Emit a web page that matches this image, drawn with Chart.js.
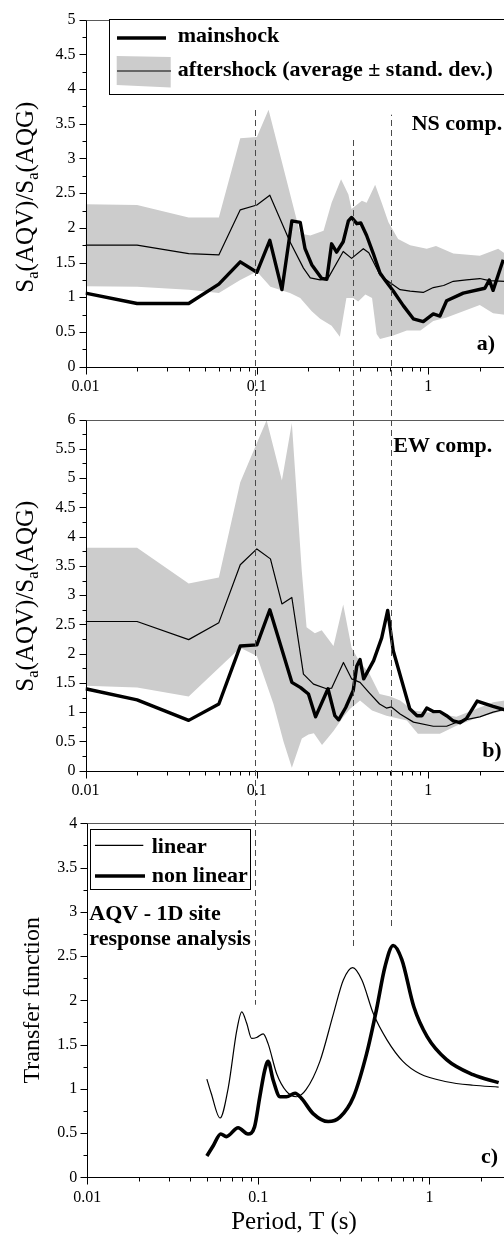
<!DOCTYPE html>
<html><head><meta charset="utf-8">
<script src="https://cdn.jsdelivr.net/npm/chart.js@4.4.1/dist/chart.umd.min.js"></script>
<style>
html,body{margin:0;padding:0;background:#fff;overflow:hidden;width:504px;height:1236px}
#wrap{position:relative;width:504px;height:1236px;overflow:hidden;background:#fff}
canvas{position:absolute;left:0}
</style></head><body>
<div id="wrap">
<canvas id="ca" width="510" height="400" style="top:0px"></canvas>
<canvas id="cb" width="510" height="400" style="top:400px"></canvas>
<canvas id="cc" width="511" height="436" style="top:800px"></canvas>
</div>
<script>
const FONT = '"Liberation Serif","Times New Roman",serif';

// ---- axis ticks ----
const X_TICKS = [0.01,0.02,0.03,0.04,0.05,0.06,0.07,0.08,0.09,0.1,0.2,0.3,0.4,0.5,0.6,0.7,0.8,0.9,1,2,3];
const X_LABELED = [0.01, 0.1, 1];
const X_LABELS = ['0.01', '0.1', '1'];

// ---- panel a) NS comp. ----
const NS_MAIN_T = [0.01,0.02,0.04,0.06,0.08,0.1,0.119,0.14,0.16,0.179,0.191,0.209,0.239,0.256,0.273,0.292,0.319,0.342,0.357,0.383,0.404,0.437,0.478,0.523,0.559,0.625,0.715,0.818,0.935,1.07,1.17,1.28,1.6,2.14,2.27,2.39,2.74];
const NS_MAIN   = [1.06,0.91,0.91,1.19,1.51,1.36,1.82,1.11,2.10,2.08,1.70,1.47,1.27,1.26,1.77,1.65,1.80,2.10,2.15,2.06,2.07,1.89,1.63,1.35,1.25,1.09,0.88,0.69,0.65,0.76,0.73,0.95,1.06,1.13,1.25,1.10,1.54];
const NS_MEAN_T = [0.01,0.02,0.04,0.06,0.08,0.1,0.119,0.156,0.187,0.205,0.234,0.261,0.319,0.357,0.418,0.45,0.523,0.6,0.685,0.784,0.935,1.07,1.23,1.4,1.67,2.0,2.27,2.8];
const NS_MEAN   = [1.75,1.75,1.63,1.61,2.26,2.33,2.47,1.80,1.42,1.28,1.25,1.28,1.66,1.56,1.70,1.64,1.32,1.21,1.11,1.09,1.07,1.14,1.17,1.23,1.25,1.27,1.24,1.23];
const NS_UP_T = [0.01,0.02,0.04,0.06,0.08,0.1,0.117,0.179,0.205,0.245,0.273,0.31,0.342,0.357,0.41,0.437,0.49,0.535,0.586,0.667,0.784,0.98,1.11,1.4,2.0,2.56,2.8];
const NS_UP   = [2.34,2.33,2.15,2.15,3.29,3.31,3.70,1.92,1.89,1.96,2.36,2.70,2.48,2.27,2.39,2.36,2.62,2.36,2.08,1.84,1.75,1.70,1.74,1.63,1.60,1.70,1.63];
const NS_LO_T = [0.01,0.02,0.04,0.06,0.08,0.1,0.12,0.156,0.179,0.209,0.234,0.273,0.305,0.333,0.365,0.39,0.43,0.47,0.5,0.523,0.625,0.75,0.9,1.07,1.28,1.6,2.0,2.39,2.8];
const NS_LO   = [1.16,1.15,1.11,1.06,1.25,1.37,1.15,1.06,0.99,0.80,0.69,0.59,0.43,0.99,0.99,0.94,1.04,0.99,0.47,0.40,0.45,0.52,0.52,0.66,0.71,0.80,0.89,0.77,0.75];

// ---- panel b) EW comp. ----
const EW_MAIN_T = [0.01,0.02,0.04,0.06,0.08,0.1,0.119,0.16,0.18,0.2,0.22,0.26,0.285,0.30,0.33,0.365,0.383,0.40,0.42,0.48,0.535,0.58,0.625,0.70,0.78,0.86,0.92,0.98,1.07,1.17,1.28,1.40,1.53,1.67,1.93,2.39,2.8];
const EW_MAIN   = [1.40,1.21,0.86,1.14,2.13,2.15,2.75,1.51,1.42,1.31,0.92,1.40,0.94,0.87,1.08,1.37,1.79,1.90,1.57,1.88,2.27,2.74,2.05,1.54,1.06,0.94,0.94,1.07,1.01,1.01,0.94,0.85,0.82,0.89,1.19,1.10,1.04];
const EW_MEAN_T = [0.01,0.02,0.04,0.06,0.08,0.1,0.12,0.14,0.16,0.187,0.214,0.255,0.273,0.32,0.357,0.40,0.45,0.52,0.57,0.61,0.685,0.82,1.07,1.28,1.53,2.0,2.39,2.8];
const EW_MEAN   = [2.55,2.55,2.24,2.53,3.52,3.79,3.62,2.85,2.96,1.65,1.48,1.40,1.41,1.85,1.57,1.51,1.34,1.14,1.07,1.09,0.97,0.83,0.76,0.76,0.85,0.92,1.00,1.05];
const EW_UP_T = [0.01,0.02,0.04,0.06,0.08,0.1,0.114,0.14,0.16,0.183,0.195,0.218,0.239,0.28,0.319,0.357,0.40,0.45,0.52,0.60,0.685,0.818,0.98,1.17,1.46,2.0,2.39,2.8];
const EW_UP   = [3.81,3.81,3.20,3.30,4.93,5.60,5.99,4.96,5.94,3.40,2.45,2.35,2.40,2.13,2.84,2.10,1.85,1.68,1.31,1.27,1.20,1.03,1.00,0.97,0.92,1.08,1.17,1.20];
const EW_LO_T = [0.01,0.02,0.04,0.08,0.1,0.125,0.143,0.16,0.183,0.20,0.215,0.24,0.28,0.32,0.35,0.40,0.47,0.57,0.75,0.87,1.17,1.46,2.0,2.8];
const EW_LO   = [1.45,1.42,1.27,2.10,1.96,1.14,0.50,0.05,0.55,0.62,0.64,0.44,0.68,0.92,1.06,1.20,1.03,0.94,0.86,0.63,0.63,0.77,0.92,1.03];

// ---- panel c) transfer function ----
const LIN_T = [0.05,0.053,0.0597,0.0668,0.0748,0.08,0.0855,0.0913,0.0977,0.1067,0.114,0.128,0.146,0.167,0.19,0.229,0.275,0.314,0.356,0.403,0.47,0.566,0.70,0.88,1.26,1.80,2.54];
const LIN   = [1.11,0.95,0.67,1.02,1.66,1.87,1.74,1.57,1.58,1.62,1.51,1.17,0.97,0.91,0.99,1.31,1.85,2.23,2.37,2.23,1.85,1.55,1.31,1.17,1.08,1.04,1.02];
const NL_T = [0.05,0.0546,0.0603,0.065,0.0762,0.087,0.095,0.102,0.109,0.114,0.122,0.134,0.146,0.164,0.179,0.209,0.256,0.30,0.36,0.43,0.49,0.55,0.614,0.69,0.81,0.97,1.26,1.80,2.54];
const NL   = [0.24,0.36,0.49,0.46,0.56,0.49,0.57,0.91,1.21,1.31,1.10,0.91,0.91,0.95,0.89,0.72,0.63,0.68,0.91,1.40,1.89,2.38,2.62,2.46,1.93,1.59,1.33,1.16,1.07];

// ---- vertical dashed reference periods ----
const DASH_T = [0.098, 0.362, 0.608];
const DASH_FROM_A = [3.70, 3.32, 3.63];   // start level, panel a
const DASH_TO_C   = [1.95, 2.57, 2.83];   // end level, panel c

const pts = (xs, ys) => xs.map((x, i) => ({x: x, y: ys[i]}));
const isHalf = v => Math.abs(v * 2 - Math.round(v * 2)) < 1e-9;
let DASH_PX = null;

function lineDS(xs, ys, w, smooth) {
  return {data: pts(xs, ys), borderColor: '#000', borderWidth: w, pointRadius: 0, fill: false,
    tension: smooth ? 0.4 : 0, cubicInterpolationMode: smooth ? 'monotone' : 'default', borderJoinStyle: 'round'};
}
function bandDS(ut, u, lt, l) {
  return [
    {data: pts(ut, u), borderWidth: 0, borderColor: 'rgba(0,0,0,0)', backgroundColor: '#cccccc', fill: '+1', pointRadius: 0, tension: 0},
    {data: pts(lt, l), borderWidth: 0, borderColor: 'rgba(0,0,0,0)', backgroundColor: 'rgba(0,0,0,0)', fill: false, pointRadius: 0, tension: 0}
  ];
}

function drawYTitle(c, pieces, xBase, yCenter, size) {
  c.save();
  c.translate(xBase, yCenter);
  c.rotate(-Math.PI / 2);
  c.fillStyle = '#000';
  c.textBaseline = 'alphabetic';
  c.textAlign = 'left';
  let total = 0;
  const ws = pieces.map(p => {
    c.font = (p.sub ? size * 0.66 : size) + 'px ' + FONT;
    const w = c.measureText(p.t).width; total += w; return w;
  });
  let x = -total / 2;
  pieces.forEach((p, i) => {
    c.font = (p.sub ? size * 0.66 : size) + 'px ' + FONT;
    c.fillText(p.t, x, p.sub ? size * 0.2 : 0);
    x += ws[i];
  });
  c.restore();
}

function framePlugin(o) {
  return {
    id: 'frame',
    afterDatasetsDraw(chart) {
      const c = chart.ctx, a = chart.chartArea, xs = chart.scales.x, ys = chart.scales.y;
      c.save();
      const L = Math.round(a.left) + 0.5, B = Math.round(a.bottom) + 0.5, T = Math.round(a.top) + 0.5;
      c.lineWidth = 1;
      c.strokeStyle = '#5a5a5a';
      c.beginPath(); c.moveTo(L, T); c.lineTo(chart.width, T); c.stroke();
      c.strokeStyle = '#000';
      c.beginPath(); c.moveTo(L, T); c.lineTo(L, B); c.moveTo(L - 0.5, B); c.lineTo(chart.width, B); c.stroke();
      c.beginPath();
      ys.ticks.forEach(t => {
        const y = Math.round(ys.getPixelForValue(t.value)) + 0.5;
        c.moveTo(L - (isHalf(t.value) ? 7 : 4), y); c.lineTo(L, y);
      });
      xs.ticks.forEach(t => {
        const x = Math.round(xs.getPixelForValue(t.value)) + 0.5;
        c.moveTo(x, B); c.lineTo(x, B + (X_LABELED.includes(t.value) ? 7 : 4));
      });
      c.stroke();

      // x tick labels
      c.fillStyle = '#000';
      c.font = '16px ' + FONT; c.textAlign = 'center'; c.textBaseline = 'middle';
      X_LABELED.forEach((v, i) => c.fillText(X_LABELS[i], xs.getPixelForValue(v), a.bottom + 20));

      // dashed reference lines
      if (!DASH_PX) DASH_PX = DASH_T.map(t => Math.round(xs.getPixelForValue(t)) + 0.5);
      c.strokeStyle = '#4a4a4a';
      c.setLineDash([6, 4]);
      DASH_T.forEach((t, i) => {
        const x = DASH_PX[i];
        const y0 = o.dashFrom ? ys.getPixelForValue(o.dashFrom[i]) : 0;
        const y1 = o.dashTo ? ys.getPixelForValue(o.dashTo[i]) : chart.height;
        c.lineDashOffset = (o.top + y0) % 10;
        c.beginPath(); c.moveTo(x, y0); c.lineTo(x, y1); c.stroke();
      });
      c.setLineDash([]);

      if (o.legend) o.legend(c);

      c.fillStyle = '#000';
      (o.texts || []).forEach(tx => {
        c.font = 'bold 22px ' + FONT;
        c.textAlign = tx.align || 'left';
        c.textBaseline = 'alphabetic';
        c.fillText(tx.t, tx.x, tx.y);
      });
      drawYTitle(c, o.yTitle, o.yTitleX, (a.top + a.bottom) / 2 + (o.yTitleDy || 0), o.yTitleSize);
      if (o.xTitle) {
        c.font = '25px ' + FONT; c.textAlign = 'center'; c.textBaseline = 'alphabetic';
        c.fillText(o.xTitle, o.xTitleX, o.xTitleY);
      }
      c.restore();
    }
  };
}

function makePanel(o) {
  return new Chart(document.getElementById(o.id), {
    type: 'line',
    data: {datasets: o.datasets},
    options: {
      responsive: false, animation: false, devicePixelRatio: 1, events: [],
      layout: {padding: {top: o.padTop, left: 0, right: 0, bottom: 0}},
      plugins: {legend: {display: false}, tooltip: {enabled: false}},
      elements: {point: {radius: 0}},
      scales: {
        x: {type: 'logarithmic', min: 0.01, max: 3, position: 'bottom',
          afterBuildTicks: s => { s.ticks = X_TICKS.map(v => ({value: v})); },
          afterFit: s => { s.height = o.xAxisH; },
          grid: {display: false, drawTicks: false}, border: {display: false},
          ticks: {display: false, autoSkip: false, maxRotation: 0, minRotation: 0}},
        y: {type: 'linear', min: 0, max: o.yMax, position: 'left',
          afterFit: s => { s.width = o.leftW; },
          grid: {display: false, drawTicks: false}, border: {display: false},
          ticks: {stepSize: 0.25, autoSkip: false, padding: 10, color: '#000',
            font: {family: FONT, size: 16},
            callback: v => isHalf(v) ? String(Math.round(v * 100) / 100) : ''}}
      }
    },
    plugins: [framePlugin(o)]
  });
}

const SA_TITLE = [{t: 'S'}, {t: 'a', sub: true}, {t: '(AQV)/S'}, {t: 'a', sub: true}, {t: '(AQG)'}];

makePanel({
  id: 'ca', top: 0, padTop: 14, xAxisH: 33.3, leftW: 85.5, yMax: 5,
  datasets: [lineDS(NS_MAIN_T, NS_MAIN, 3.4), lineDS(NS_MEAN_T, NS_MEAN, 1.2)].concat(bandDS(NS_UP_T, NS_UP, NS_LO_T, NS_LO)),
  dashFrom: DASH_FROM_A,
  yTitle: SA_TITLE, yTitleX: 32.5, yTitleDy: 4, yTitleSize: 25,
  texts: [{t: 'NS comp.', x: 411.7, y: 130}, {t: 'a)', x: 495, y: 350, align: 'right'}],
  legend: c => {
    c.fillStyle = '#fff'; c.fillRect(109.5, 19.5, 500, 75);
    c.strokeStyle = '#000'; c.lineWidth = 1; c.strokeRect(109.5, 19.5, 500, 75);
    c.lineWidth = 3.5; c.beginPath(); c.moveTo(117, 38); c.lineTo(166, 38); c.stroke();
    c.fillStyle = '#cccccc'; c.beginPath(); c.moveTo(116.7, 56); c.lineTo(170.7, 57); c.lineTo(170.7, 87.5); c.lineTo(116.7, 85); c.closePath(); c.fill();
    c.lineWidth = 1.2; c.beginPath(); c.moveTo(117, 71); c.lineTo(171, 71); c.stroke();
    c.fillStyle = '#000'; c.font = 'bold 22px ' + FONT; c.textAlign = 'left'; c.textBaseline = 'alphabetic';
    c.fillText('mainshock', 177.7, 41.7);
    c.fillText('aftershock (average \u00b1 stand. dev.)', 177.7, 76);
  }
});

makePanel({
  id: 'cb', top: 400, padTop: 16.7, xAxisH: 29.3, leftW: 85.5, yMax: 6,
  datasets: [lineDS(EW_MAIN_T, EW_MAIN, 3.4), lineDS(EW_MEAN_T, EW_MEAN, 1.2)].concat(bandDS(EW_UP_T, EW_UP, EW_LO_T, EW_LO)),
  yTitle: SA_TITLE, yTitleX: 32.5, yTitleDy: 1, yTitleSize: 25,
  texts: [{t: 'EW comp.', x: 393.3, y: 51.7}, {t: 'b)', x: 501.7, y: 356.7, align: 'right'}]
});

makePanel({
  id: 'cc', top: 800, padTop: 23.3, xAxisH: 58.7, leftW: 87.3, yMax: 4,
  datasets: [lineDS(NL_T, NL, 3.6, true), lineDS(LIN_T, LIN, 1.2, true)],
  dashTo: DASH_TO_C,
  yTitle: [{t: 'Transfer function'}], yTitleX: 39, yTitleDy: 0, yTitleSize: 24,
  xTitle: 'Period, T (s)', xTitleX: 294, xTitleY: 429,
  texts: [{t: 'AQV - 1D site', x: 89.3, y: 120}, {t: 'response analysis', x: 89.3, y: 145}, {t: 'c)', x: 498, y: 363.3, align: 'right'}],
  legend: c => {
    c.fillStyle = '#fff'; c.fillRect(90.5, 29.5, 160, 60);
    c.strokeStyle = '#000'; c.lineWidth = 1; c.strokeRect(90.5, 29.5, 160, 60);
    c.lineWidth = 1.2; c.beginPath(); c.moveTo(95, 45.3); c.lineTo(143.3, 45.3); c.stroke();
    c.lineWidth = 3.6; c.beginPath(); c.moveTo(95, 76); c.lineTo(145, 76); c.stroke();
    c.fillStyle = '#000'; c.font = 'bold 22px ' + FONT; c.textAlign = 'left'; c.textBaseline = 'alphabetic';
    c.fillText('linear', 151.7, 53.3);
    c.fillText('non linear', 151.7, 81.7);
  }
});
</script>
</body></html>
